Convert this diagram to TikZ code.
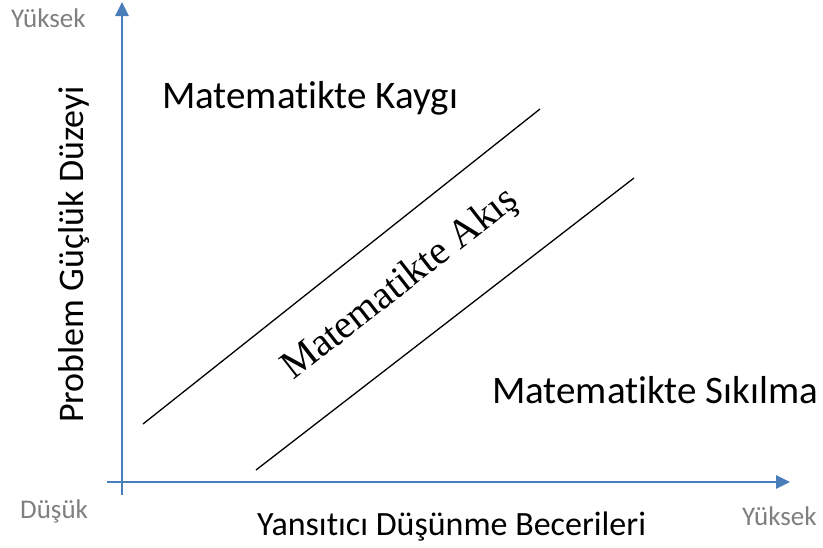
\documentclass[tikz,border=0pt]{standalone}
\usepackage{fontspec}
\setmainfont{Carlito}[RawFeature=-liga]
\newfontfamily\akisfont{Liberation Serif}
\usetikzlibrary{arrows.meta,positioning}
\definecolor{axisblue}{RGB}{74,126,187}
\definecolor{endgray}{RGB}{127,127,127}

\begin{document}
\begin{tikzpicture}[
  x=1pt, y=-1pt,
  >={Triangle[length=14pt,width=13pt]},
  axis/.style={draw=axisblue, line width=2.6pt},
  band/.style={draw=black, line width=1.3pt},
  lbl/.style={inner sep=0pt, anchor=base west},
  endlbl/.style={lbl, text=endgray, font=\fontsize{27}{31}\selectfont},
  zone/.style={lbl, font=\fontsize{39}{44}\selectfont},
  axlbl/.style={lbl, font=\fontsize{34}{40}\selectfont}
]
\useasboundingbox (0,0) rectangle (823,547);
% axes
\coordinate (xs) at (107,482);
\coordinate (xe) at (790,482);
\coordinate (ys) at (122,495);
\coordinate (ye) at (122,2);
\draw[axis, ->] (xs) -- (xe);
\draw[axis, ->] (ys) -- (ye);
% flow band
\coordinate (a1) at (143,424);
\coordinate (a2) at (540,109);
\coordinate (b1) at (256,470);
\coordinate (b2) at (634,178);
\draw[band] (a1) -- (a2);
\draw[band] (b1) -- (b2);
% labels
\node[endlbl] (yhi) at (11,27) {Yüksek};
\node[endlbl] (ylo) at (20,518) {Düşük};
\node[endlbl] (xhi) at (742,525) {Yüksek};
\node[zone] (kaygi) at (162,108) {Matematikte Kaygı};
\node[zone] (sikilma) at (492,403) {Matematikte Sıkılma};
\node[lbl, rotate=38, font=\akisfont\fontsize{40}{46}\selectfont] (akis) at (293,381) {Matematikte Akış};
\node[axlbl] (xlab) at (257,535) {Yansıtıcı Düşünme Becerileri};
\node[axlbl, rotate=90, font=\fontsize{36}{42}\selectfont] (ylab) at (83,423) {Problem Güçlük Düzeyi};
\end{tikzpicture}
\end{document}
